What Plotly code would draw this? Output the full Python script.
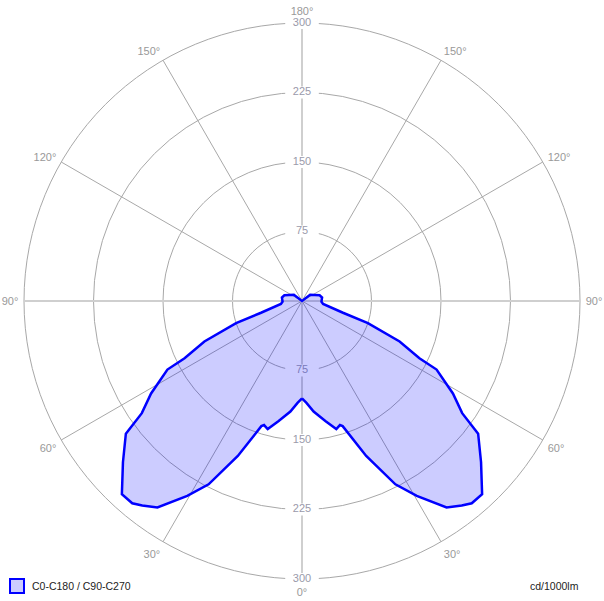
import plotly.graph_objects as go

# Luminous intensity (cd/1000lm) vs. gamma angle, one half-plane (symmetric)
gamma = [0, 2.5, 6, 11, 15, 17, 18, 22.5, 27, 30.5, 35, 38, 40, 43, 48, 53, 55,
         58.5, 63, 64, 67.5, 71.5, 74, 82, 88, 100, 108, 127, 180]
intensity = [105, 110, 120, 132, 143, 140, 142, 181, 222, 244, 272, 280, 285, 285,
             260, 238, 211, 191, 163, 141, 114, 75, 46, 23, 21, 22, 20, 11, 0]

series_name = "C0-C180 / C90-C270"
unit_label = "cd/1000lm"
radial_ticks = [75, 150, 225, 300]
angle_tickvals = [0, 30, 60, 90, 120, 150, 180, 210, 240, 270, 300, 330]
angle_ticktext = ["0°", "30°", "60°", "90°", "120°", "150°", "180°",
                  "150°", "120°", "90°", "60°", "30°"]

# full curve: right half then mirrored left half
theta = gamma + [360 - g for g in reversed(gamma)]
r = intensity + list(reversed(intensity))

grid_col = "#a8a8a8"
label_col = "#9a9aaa"
FONT = "Liberation Sans"

W, H = 604, 601

fig = go.Figure()

# main cross axes (thicker, lighter)
fig.add_trace(go.Scatterpolar(r=[300, 0, 300], theta=[0, 0, 180], mode="lines",
                              line=dict(color="#cfcfcf", width=2),
                              showlegend=False, hoverinfo="skip"))
fig.add_trace(go.Scatterpolar(r=[300, 0, 300], theta=[90, 0, 270], mode="lines",
                              line=dict(color="#cfcfcf", width=2),
                              showlegend=False, hoverinfo="skip"))

# radial tick labels with white background, both up and down
lab_r = radial_ticks + radial_ticks
lab_t = [180] * len(radial_ticks) + [0] * len(radial_ticks)
fig.add_trace(go.Scatterpolar(r=lab_r, theta=lab_t, mode="markers+text",
                              text=[str(v) for v in lab_r],
                              textposition="middle center",
                              textfont=dict(family=FONT, size=11, color=label_col),
                              marker=dict(symbol="line-ew", size=24,
                                          line=dict(color="white", width=12)),
                              showlegend=False, hoverinfo="skip"))

# the intensity curve
fig.add_trace(go.Scatterpolar(r=r, theta=theta, mode="lines", fill="toself",
                              fillcolor="rgba(0,0,255,0.2)",
                              line=dict(color="#0000ff", width=2.5),
                              name=series_name, showlegend=False))

fig.update_layout(
    width=W, height=H, autosize=False,
    margin=dict(l=0, r=0, t=0, b=0),
    paper_bgcolor="white",
    showlegend=False,
    font=dict(family=FONT, size=11, color="#222"),
    polar=dict(
        domain=dict(x=[24 / W, 580 / W], y=[22 / H, 578 / H]),
        bgcolor="white",
        radialaxis=dict(range=[0, 300], tickvals=radial_ticks, showticklabels=False,
                        ticks="", showline=False, gridcolor=grid_col, gridwidth=1,
                        layer="below traces"),
        angularaxis=dict(rotation=270, direction="counterclockwise",
                         tickmode="array", tickvals=angle_tickvals,
                         ticktext=angle_ticktext, ticks="outside", ticklen=3,
                         tickcolor="rgba(0,0,0,0)",
                         tickfont=dict(family=FONT, size=11, color="#999999"),
                         showline=True, linecolor=grid_col, linewidth=1,
                         gridcolor=grid_col, gridwidth=1, layer="below traces"),
    ),
    shapes=[dict(type="rect", xref="paper", yref="paper",
                 x0=10 / W, x1=24 / W, y0=(H - 593) / H, y1=(H - 579) / H,
                 fillcolor="rgb(204,204,255)", line=dict(color="#0000ff", width=2))],
    annotations=[
        dict(text=series_name, x=30 / W, y=(H - 586) / H, xref="paper", yref="paper",
             xanchor="left", yanchor="middle", showarrow=False,
             font=dict(family=FONT, size=10.5, color="#222")),
        dict(text=unit_label, x=581 / W, y=(H - 586) / H, xref="paper", yref="paper",
             xanchor="right", yanchor="middle", showarrow=False,
             font=dict(family=FONT, size=10.5, color="#222")),
    ],
)

fig.write_html("out.html",
               config={"displayModeBar": False, "responsive": False},
               post_script="document.body.style.margin='0';")
